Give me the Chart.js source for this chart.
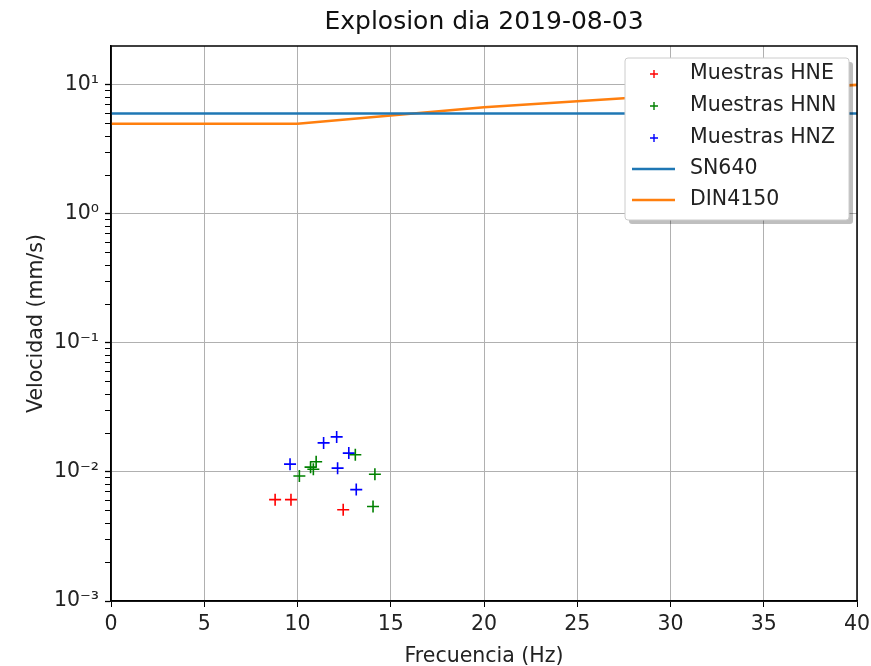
<!DOCTYPE html>
<html><head><meta charset="utf-8">
<script src="https://cdn.jsdelivr.net/npm/chart.js@4/dist/chart.umd.min.js"></script>
<style>html,body{margin:0;padding:0;background:#fff}</style>
</head><body>
<canvas id="c" width="871" height="666"></canvas>
<script>
const chartTitle = 'Explosion dia 2019-08-03';
const xLabel = 'Frecuencia (Hz)';
const yLabel = 'Velocidad (mm/s)';

const hneFreq = [8.8, 9.65, 12.45];
const hneVel  = [0.0061, 0.0061, 0.0051];
const hnnFreq = [10.1, 10.7, 10.85, 11.0, 13.1, 14.15, 14.05];
const hnnVel  = [0.0093, 0.0109, 0.0105, 0.0120, 0.0136, 0.0096, 0.0054];
const hnzFreq = [9.6, 11.4, 12.1, 12.75, 12.15, 13.15];
const hnzVel  = [0.0115, 0.0168, 0.0187, 0.0140, 0.0107, 0.0073];
const sn640Freq = [0, 40];
const sn640Vel  = [6, 6];
const dinFreq = [0, 10, 20, 30, 40];
const dinVel  = [5, 5, 6.7, 8.3, 10];

const xTicks = [0, 5, 10, 15, 20, 25, 30, 35, 40];
const yDecades = [-3, -2, -1, 0, 1];
const yTickLabels = ['10\u207B\u00B3', '10\u207B\u00B2', '10\u207B\u00B9', '10\u2070', '10\u00B9'];

const FONT = 'DejaVu Sans';
const pts = (xs, ys) => xs.map((x, i) => ({x, y: ys[i]}));

const overlayPlugin = {
  id: 'overlay',
  afterDraw(chart) {
    const ctx = chart.ctx;
    const a = chart.chartArea;
    ctx.save();
    // top/right spines
    ctx.strokeStyle = '#000';
    ctx.lineWidth = 1.5;
    ctx.strokeRect(a.left, a.top, a.right - a.left, a.bottom - a.top);
    // title centred over the axes
    ctx.fillStyle = '#111';
    ctx.font = '25px "' + FONT + '"';
    ctx.textAlign = 'center';
    ctx.textBaseline = 'middle';
    ctx.fillText(chartTitle, (a.left + a.right) / 2, 22);

    // legend
    const L = 625, T = 58, W = 224, H = 162;
    ctx.fillStyle = 'rgba(0,0,0,0.25)';
    ctx.beginPath(); ctx.roundRect(L + 4, T + 4, W, H, 3); ctx.fill();
    ctx.fillStyle = '#fff';
    ctx.strokeStyle = '#cccccc';
    ctx.lineWidth = 1;
    ctx.beginPath(); ctx.roundRect(L, T, W, H, 3); ctx.fill(); ctx.stroke();
    const ys = [74, 106, 138, 169, 200];
    chart.data.datasets.forEach((ds, i) => {
      const y = ys[i];
      ctx.strokeStyle = ds.borderColor;
      if (ds.showLine) {
        ctx.lineWidth = 2.6;
        ctx.beginPath(); ctx.moveTo(632, y); ctx.lineTo(675, y); ctx.stroke();
      } else {
        ctx.lineWidth = 1.4;
        ctx.beginPath();
        ctx.moveTo(650, y); ctx.lineTo(658, y);
        ctx.moveTo(654, y - 4); ctx.lineTo(654, y + 4);
        ctx.stroke();
      }
      ctx.fillStyle = '#222';
      ctx.font = '20.5px "' + FONT + '"';
      ctx.textBaseline = 'middle';
      ctx.textAlign = 'left';
      ctx.fillText(ds.label, 690, y);
    });
    ctx.restore();
  }
};

new Chart(document.getElementById('c'), {
  type: 'scatter',
  data: {
    datasets: [
      {label: 'Muestras HNE', data: pts(hneFreq, hneVel), borderColor: '#ff0000', backgroundColor: '#ff0000',
       pointStyle: 'cross', pointRadius: 6, pointBorderWidth: 1.6, showLine: false},
      {label: 'Muestras HNN', data: pts(hnnFreq, hnnVel), borderColor: '#008000', backgroundColor: '#008000',
       pointStyle: 'cross', pointRadius: 6, pointBorderWidth: 1.6, showLine: false},
      {label: 'Muestras HNZ', data: pts(hnzFreq, hnzVel), borderColor: '#0000ff', backgroundColor: '#0000ff',
       pointStyle: 'cross', pointRadius: 6, pointBorderWidth: 1.6, showLine: false},
      {label: 'SN640', data: pts(sn640Freq, sn640Vel), borderColor: '#1f77b4', backgroundColor: '#1f77b4',
       showLine: true, pointRadius: 0, borderWidth: 2.6, tension: 0},
      {label: 'DIN4150', data: pts(dinFreq, dinVel), borderColor: '#ff7f0e', backgroundColor: '#ff7f0e',
       showLine: true, pointRadius: 0, borderWidth: 2.6, tension: 0}
    ]
  },
  options: {
    responsive: false,
    animation: false,
    devicePixelRatio: 1,
    layout: {padding: {left: 0, right: 0, top: 46, bottom: 0}},
    plugins: {
      legend: {display: false},
      tooltip: {enabled: false},
      title: {display: false}
    },
    scales: {
      x: {
        type: 'linear', min: 0, max: 40,
        afterBuildTicks: s => { s.ticks = xTicks.map(v => ({value: v})); },
        afterFit: s => { s.height = 65; s.paddingRight = 14; s.paddingLeft = 0; },
        ticks: {color: '#222', font: {family: FONT, size: 20.5}, padding: 5, autoSkip: false, maxRotation: 0},
        grid: {color: '#b0b0b0', lineWidth: 1, tickColor: '#000', tickLength: 6},
        border: {color: '#000', width: 1.5},
        title: {display: true, text: xLabel, color: '#222', font: {family: FONT, size: 20.5, lineHeight: 0.9}, padding: {top: 0, bottom: 0}}
      },
      y: {
        type: 'logarithmic', min: 0.001, max: 20,
        afterBuildTicks: s => {
          const t = [];
          yDecades.forEach(d => {
            for (let m = 1; m <= 9; m++) {
              const v = m * Math.pow(10, d);
              if (v < 20 - 1e-9) t.push({value: v, major: m === 1});
            }
          });
          s.ticks = t;
        },
        afterFit: s => { s.width = 111; s.paddingTop = 0; s.paddingBottom = 0; },
        ticks: {
          color: '#222', font: {family: FONT, size: 20.5}, padding: 6, autoSkip: false,
          callback: function(v) {
            const d = Math.round(Math.log10(v));
            const m = v / Math.pow(10, d);
            if (Math.abs(m - 1) < 1e-6) return yTickLabels[yDecades.indexOf(d)];
            return '';
          }
        },
        grid: {
          color: c => (c.tick && c.tick.major) ? '#b0b0b0' : 'rgba(0,0,0,0)',
          lineWidth: 1,
          tickColor: '#000',
          tickLength: 6,
          tickWidth: c => (c.tick && c.tick.major) ? 1.3 : 1
        },
        border: {color: '#000', width: 1.5},
        title: {display: true, text: yLabel, color: '#222', font: {family: FONT, size: 20.5, lineHeight: 1.0}, padding: {top: 26, bottom: 0}}
      }
    }
  },
  plugins: [overlayPlugin]
});
</script>
</body></html>
